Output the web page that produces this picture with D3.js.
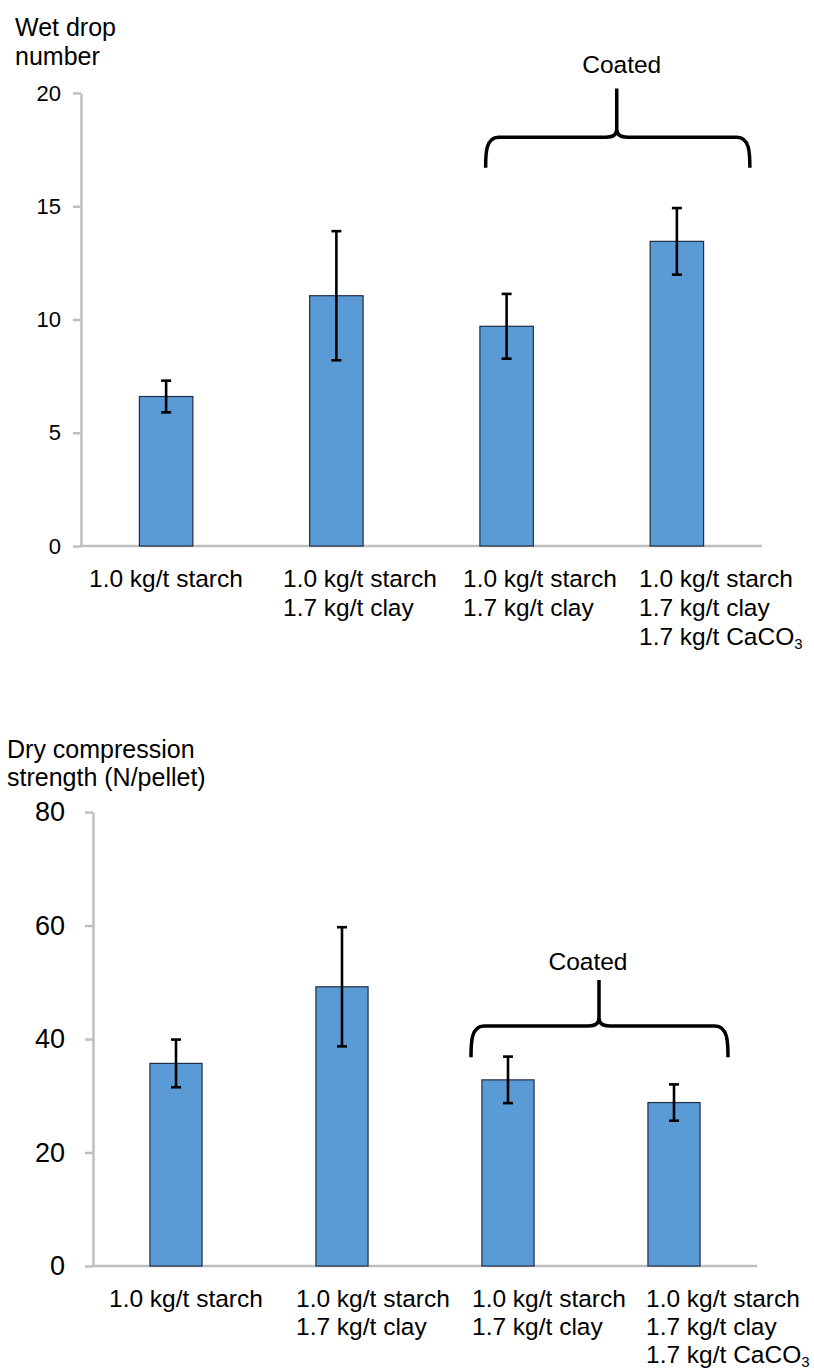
<!DOCTYPE html>
<html>
<head>
<meta charset="utf-8">
<script src="https://cdn.jsdelivr.net/npm/d3@7"></script>
<style>
  body { margin: 0; background: #fff; }
  text { font-family: "Liberation Sans", Arial, sans-serif; fill: #000; }
</style>
</head>
<body>
<svg width="814" height="1372"></svg>
<script>
// data
const categories = [
    ["1.0 kg/t starch"],
    ["1.0 kg/t starch", "1.7 kg/t clay"],
    ["1.0 kg/t starch", "1.7 kg/t clay"],
    ["1.0 kg/t starch", "1.7 kg/t clay", "1.7 kg/t CaCO|3"]
];
const wetDrop = [6.6, 11.05, 9.7, 13.45];
const wetDropErr = [0.7, 2.85, 1.43, 1.47];
const dryStrength = [35.7, 49.2, 32.8, 28.8];
const dryStrengthErr = [4.2, 10.5, 4.1, 3.2];
const wetTicks = [0, 5, 10, 15, 20];
const dryTicks = [0, 20, 40, 60, 80];
const wetTitle = ["Wet drop", "number"];
const dryTitle = ["Dry compression", "strength (N/pellet)"];
const groupLabel = "Coated";

// layout for each panel (pixels), brace heights are in data units
let wetLayout = {
    left: 81, right: 762, top: 93, bottom: 546,
    tickFont: 22, tickPad: 12,
    titleX: 15, titleY: [36, 65],
    labelLeft: [89, 283, 463, 639], lineGap: 29,
    brace: {l: -21, r: 73, m: 25, t: 30, bar: 18.05, end: 16.7, tip: 20.2, text: 20.9}
};
let dryLayout = {
    left: 93, right: 757, top: 812, bottom: 1266,
    tickFont: 27, tickPad: 20,
    titleX: 7, titleY: [758, 786],
    labelLeft: [109, 296, 472, 646], lineGap: 28,
    brace: {l: -37, r: 54, m: 8, t: -3, bar: 42.3, end: 36.8, tip: 50.4, text: 52.2}
};

const svg = d3.select("svg");
const axisGrey = "#bfbfbf";

function drawPanel(L, values, errs, ticks, title) {
    const g = svg.append("g");

    const x = d3.scaleBand()
        .domain(d3.range(values.length))
        .range([L.left, L.right])
        .paddingInner(0.686)
        .paddingOuter(0.343);

    const y = d3.scaleLinear()
        .domain([0, d3.max(ticks)])
        .range([L.bottom, L.top]);

    // y axis
    const yAxis = d3.axisLeft(y)
        .tickValues(ticks)
        .tickSize(8)
        .tickSizeOuter(0)
        .tickPadding(L.tickPad);
    const ya = g.append("g")
        .attr("transform", `translate(${L.left},0)`)
        .call(yAxis);
    ya.select(".domain").attr("stroke", axisGrey).attr("stroke-width", 2.5);
    ya.selectAll(".tick line").attr("stroke", axisGrey).attr("stroke-width", 2.5);
    ya.selectAll(".tick text")
        .attr("font-size", L.tickFont)
        .attr("font-family", "Liberation Sans, Arial, sans-serif")
        .attr("fill", "#000");

    // baseline
    g.append("line")
        .attr("x1", L.left).attr("x2", L.right)
        .attr("y1", y(0)).attr("y2", y(0))
        .attr("stroke", axisGrey).attr("stroke-width", 2.5);

    // bars
    g.selectAll("rect.bar").data(values)
        .join("rect")
        .attr("class", "bar")
        .attr("x", (d, i) => x(i))
        .attr("y", d => y(d))
        .attr("width", x.bandwidth())
        .attr("height", d => y(0) - y(d))
        .attr("fill", "#5b9bd5")
        .attr("stroke", "#1f2d46")
        .attr("stroke-width", 1.2);

    // error bars
    const cx = i => x(i) + x.bandwidth() / 2;
    const eb = g.selectAll("g.err").data(values)
        .join("g")
        .attr("class", "err")
        .attr("stroke", "#000")
        .attr("stroke-width", 2.6);
    eb.append("line")
        .attr("x1", (d, i) => cx(i)).attr("x2", (d, i) => cx(i))
        .attr("y1", (d, i) => y(d + errs[i])).attr("y2", (d, i) => y(d - errs[i]));
    eb.append("line")
        .attr("x1", (d, i) => cx(i) - 5).attr("x2", (d, i) => cx(i) + 5)
        .attr("y1", (d, i) => y(d + errs[i])).attr("y2", (d, i) => y(d + errs[i]));
    eb.append("line")
        .attr("x1", (d, i) => cx(i) - 5).attr("x2", (d, i) => cx(i) + 5)
        .attr("y1", (d, i) => y(d - errs[i])).attr("y2", (d, i) => y(d - errs[i]));

    // category labels (left aligned blocks like the original text boxes)
    const lab = g.selectAll("text.cat").data(categories)
        .join("text")
        .attr("class", "cat")
        .attr("font-size", 24.5)
        .attr("x", (d, i) => L.labelLeft[i])
        .attr("y", y(0) + 41);
    lab.each(function(lines) {
        const t = d3.select(this);
        lines.forEach((s, k) => {
            const parts = s.split("|");
            t.append("tspan")
                .attr("x", t.attr("x"))
                .attr("y", y(0) + 41 + k * L.lineGap)
                .text(parts[0]);
            if (parts[1]) {
                t.append("tspan")
                    .attr("font-size", 15)
                    .attr("dy", 4)
                    .text(parts[1]);
            }
        });
    });

    // title
    g.append("text")
        .attr("font-size", 25)
        .selectAll("tspan").data(title)
        .join("tspan")
        .attr("x", L.titleX)
        .attr("y", (d, i) => L.titleY[i])
        .text(d => d);

    // "Coated" brace over the last two bars
    const B = L.brace;
    const c3 = cx(2), c4 = cx(3), mid = (c3 + c4) / 2;
    const x0 = c3 + B.l, x1 = c4 + B.r, xm = mid + B.m;
    const yb = y(B.bar), ye = y(B.end), yt = y(B.tip);
    const p = d3.path();
    p.moveTo(x0, ye);
    p.bezierCurveTo(x0, ye - 14, x0, yb, x0 + 13, yb);
    p.lineTo(xm - 11, yb);
    p.quadraticCurveTo(xm, yb, xm, yb - 8);
    p.lineTo(xm, yt);
    p.moveTo(xm, yb - 8);
    p.quadraticCurveTo(xm, yb, xm + 11, yb);
    p.lineTo(x1 - 13, yb);
    p.bezierCurveTo(x1, yb, x1, ye - 14, x1, ye);
    g.append("path")
        .attr("d", p.toString())
        .attr("fill", "none")
        .attr("stroke", "#000")
        .attr("stroke-width", 3.5)
        .attr("stroke-linejoin", "round");

    g.append("text")
        .attr("x", mid + B.t)
        .attr("y", y(B.text))
        .attr("text-anchor", "middle")
        .attr("font-size", 24.5)
        .text(groupLabel);
}

drawPanel(wetLayout, wetDrop, wetDropErr, wetTicks, wetTitle);
drawPanel(dryLayout, dryStrength, dryStrengthErr, dryTicks, dryTitle);
</script>
</body>
</html>
